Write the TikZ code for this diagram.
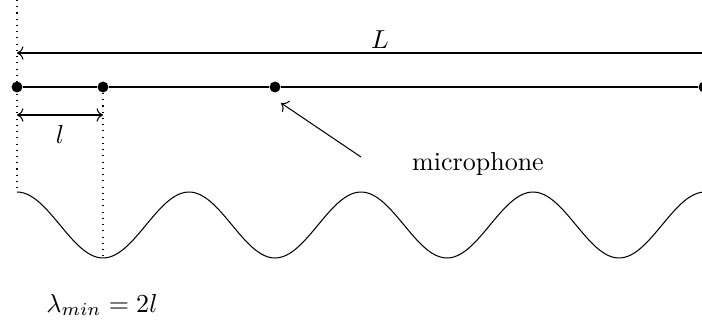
\documentclass[tikz,border=0pt]{standalone}
\usetikzlibrary{arrows.meta,calc}
\begin{document}
\begin{tikzpicture}[x=0.3846pt,y=-0.3846pt,
  dot/.style={circle,fill=black,inner sep=0pt,minimum size=4.2pt},
  dim/.style={<->,line width=0.4pt},
  guide/.style={dotted,line width=0.4pt}]
\useasboundingbox (0,0) rectangle (702,329);
\clip (0,0) rectangle (702,329);
% top reference coordinates
\coordinate (top) at (17,0);
\coordinate (Lleft) at (17,53);
\coordinate (Lright) at (712,53);
% string with dots
\node[dot] (d0) at (17,87) {};
\node[dot] (d1) at (103,87) {};
\node[dot] (d2) at (275,87) {};
\node[dot] (d3) at (704,87) {};
\draw[line width=0.4pt] (d0) -- (d1) -- (d2) -- (d3);
% L dimension
\draw[dim] (Lleft) -- (Lright);
\node (Llab) at (380,40) {$L$};
% l dimension
\coordinate (la) at (17,115);
\coordinate (lb) at (103,115);
\draw[dim] (la) -- (lb);
\node (lab) at (60,134) {$l$};
% wave
\draw[line width=0.4pt,domain=17:712,samples=200,smooth]
  plot (\x,{225-33*cos(2.0930233*(\x-17))});
\coordinate (w0) at (17,189);
\coordinate (w1) at (103,258);
\draw[guide] (top) -- (w0);
\draw[guide] (d1) -- (w1);
% microphone
\node (mic) at (478,164) {microphone};
\coordinate (ms) at (361,157);
\coordinate (me) at ($(d2.center)+(6,16)$);
\draw[->,line width=0.4pt] (ms) -- (me);
% lambda
\node (lam) at (102,305) {$\lambda_{min}=2l$};
\end{tikzpicture}
\end{document}
